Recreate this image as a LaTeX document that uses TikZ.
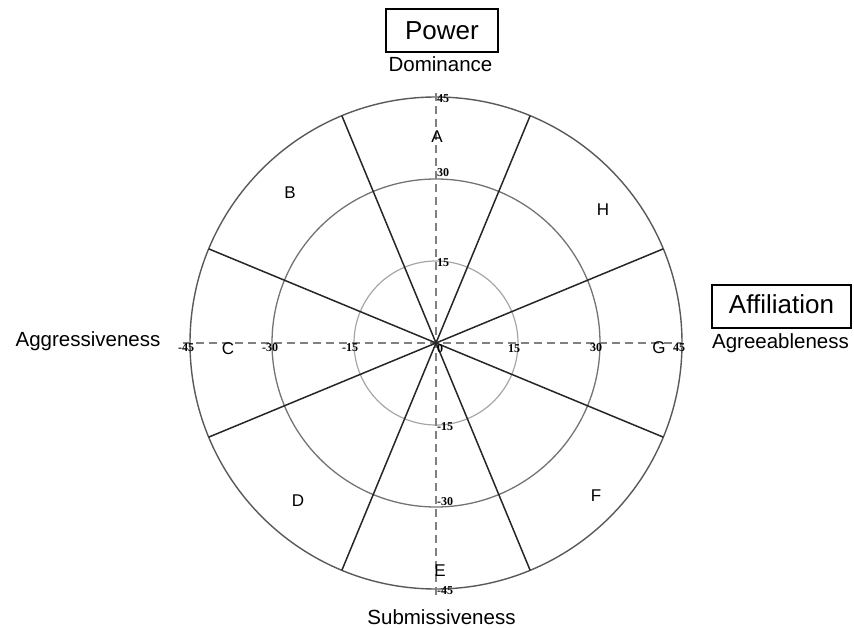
\documentclass[tikz,border=0pt]{standalone}
\usepackage{fontspec}
\usetikzlibrary{calc}
\setmainfont{Liberation Sans}
\newfontfamily\tickfont{Liberation Serif}
\begin{document}
\begin{tikzpicture}[x=1pt,y=-1pt,
  axisline/.style={draw=black!50,line width=1.5pt,dash pattern=on 8pt off 5pt},
  spoke/.style={draw=black!85,line width=1.5pt},
  tick/.style={anchor=base west,inner sep=0pt,font=\tickfont\bfseries\fontsize{12}{13}\selectfont},
  sector/.style={anchor=base,inner sep=0pt,font=\fontsize{17}{19}\selectfont},
  axlabel/.style={anchor=base,inner sep=0pt,font=\fontsize{20.5}{23}\selectfont},
  titlebox/.style={draw=black,line width=1.4pt,inner sep=0pt}]
\useasboundingbox (0,0) rectangle (854,628);
\coordinate (O) at (436,343);
% circles
\draw[black!35,line width=1.2pt] (O) circle[radius=82];
\draw[black!55,line width=1.3pt] (O) circle[radius=164];
\draw[black!65,line width=1.4pt] (O) circle[radius=246];
% axes
\coordinate (xl) at (183,343);
\coordinate (xr) at (682,343);
\coordinate (yt) at (436,93);
\coordinate (yb) at (436,597);
\draw[axisline] (xl) -- (xr);
\draw[axisline] (yt) -- (yb);
% spokes
\foreach \a in {22.5,67.5,112.5,157.5,202.5,247.5,292.5,337.5}
  \draw[spoke] (O) -- ($(O)+(\a:246)$);
% ticks
\node[tick] (t45) at (437,103) {45};
\node[tick] (t30) at (437,177) {30};
\node[tick] (t15) at (437,267) {15};
\node[tick] (t0) at (437,352.5) {0};
\node[tick] (tm15) at (437,430.5) {-15};
\node[tick] (tm30) at (437,505) {-30};
\node[tick] (tm45) at (437,594) {-45};
\node[tick] (hm45) at (178,352) {-45};
\node[tick] (hm30) at (262,352) {-30};
\node[tick] (hm15) at (342,352) {-15};
\node[tick] (h15) at (508,352.5) {15};
\node[tick] (h30) at (590,352) {30};
\node[tick] (h45) at (673,352) {45};
% sector letters
\node[sector] (A) at (437,143) {A};
\node[sector] (B) at (290,199) {B};
\node[sector] (C) at (228,354) {C};
\node[sector] (D) at (298,506) {D};
\node[sector] (E) at (440,576) {E};
\node[sector] (F) at (596,501) {F};
\node[sector] (G) at (659,353) {G};
\node[sector] (H) at (603,216) {H};
% titles
\draw[titlebox] (386,9) rectangle (498,52);
\node[anchor=base,inner sep=0pt,font=\fontsize{26}{28}\selectfont] (power) at (442,39.5) {Power};
\draw[titlebox] (712,285) rectangle (851,328);
\node[anchor=base,inner sep=0pt,font=\fontsize{26}{28}\selectfont] (affil) at (781.5,313.5) {Affiliation};
\node[axlabel] (dom) at (440.5,72) {Dominance};
\node[axlabel] (agree) at (780.5,348.3) {Agreeableness};
\node[axlabel] (aggr) at (88,346.7) {Aggressiveness};
\node[axlabel] (sub) at (441.5,624.5) {Submissiveness};
\end{tikzpicture}
\end{document}
